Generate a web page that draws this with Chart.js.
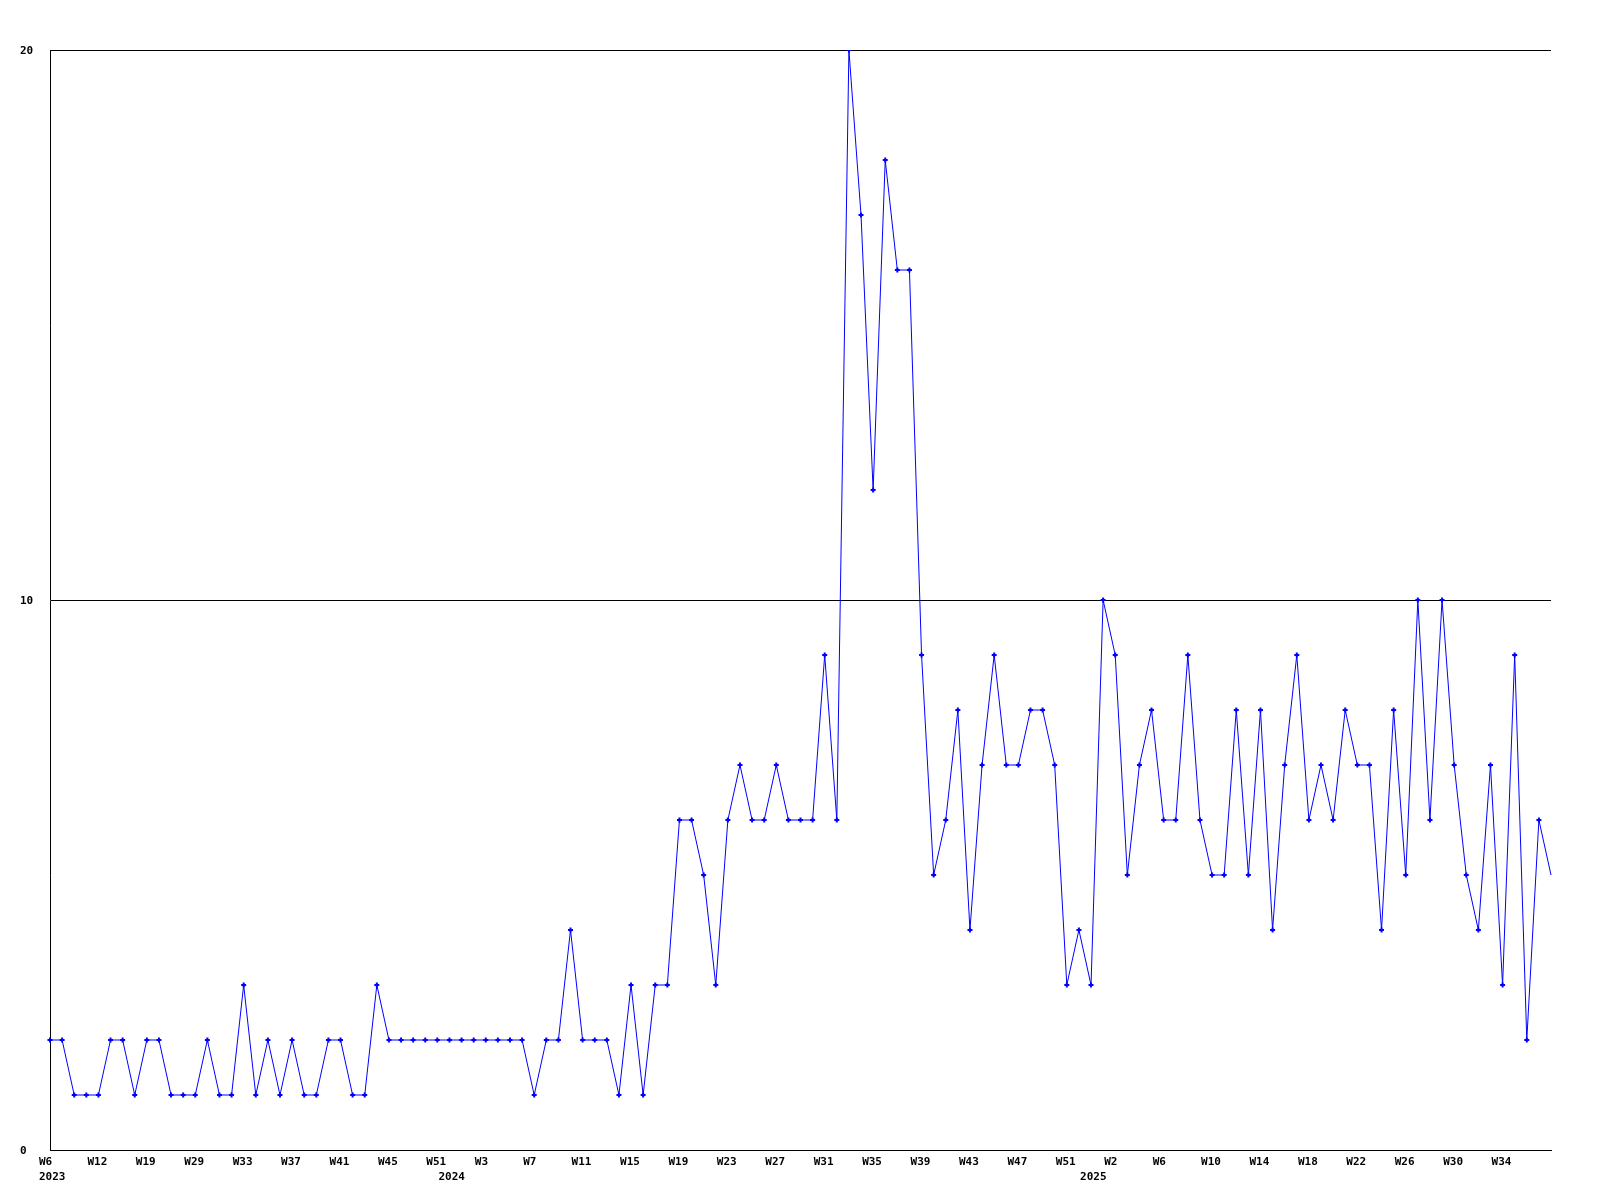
<!DOCTYPE html>
<html>
<head>
<meta charset="utf-8">
<script src="https://cdn.jsdelivr.net/npm/chart.js@4.4.1/dist/chart.umd.min.js"></script>
<style>
  html, body { margin: 0; padding: 0; background: #ffffff; }
  #wrap { width: 1600px; height: 1200px; position: relative; }
</style>
</head>
<body>
<div id="wrap"><canvas id="c" width="1600" height="1200"></canvas></div>
<script>
const weeks = [
  'W6','W7','W8','W10','W12','W14','W16','W17','W19','W22','W24','W27','W29','W30','W31','W32',
  'W33','W34','W35','W36','W37','W38','W39','W40','W41','W42','W43','W44','W45','W47','W49','W50',
  'W51','W52',
  'W1','W2','W3','W4','W5','W6','W7','W8','W9','W10','W11','W12','W13','W14','W15','W16','W17','W18',
  'W19','W20','W21','W22','W23','W24','W25','W26','W27','W28','W29','W30','W31','W32','W33','W34',
  'W35','W36','W37','W38','W39','W40','W41','W42','W43','W44','W45','W46','W47','W48','W49','W50',
  'W51','W52','W53',
  'W1','W2','W3','W4','W5','W6','W7','W8','W9','W10','W11','W12','W13','W14','W15','W16','W17','W18',
  'W19','W20','W21','W22','W23','W24','W25','W26','W27','W28','W29','W30','W31','W32','W33','W34',
  'W35','W36','W37','W38'
];
const yearTicks = { 0: '2023', 33: '2024', 86: '2025' };
const values = [
  2,2,1,1,1,2,2,1,2,2,1,1,1,2,1,1,3,1,2,1,2,1,1,2,2,1,1,3,
  2,2,2,2,2,2,2,2,2,2,2,2,
  1,2,2,4,2,2,2,1,3,1,3,3,
  6,6,5,3,6,7,6,6,7,6,6,6,
  9,6,20,17,12,18,16,16,9,5,6,8,
  4,7,9,7,7,8,8,7,3,4,3,10,
  9,5,7,8,6,6,9,6,5,5,8,5,
  8,4,7,9,6,7,6,8,7,7,4,8,
  5,10,6,10,7,5,4,7,3,9,2,6,5
];
const yTicks = [0, 10, 20];

const font = { family: "'DejaVu Sans Mono', monospace", size: 11, weight: 'bold', lineHeight: 15/11 };

new Chart(document.getElementById('c'), {
  type: 'line',
  data: {
    labels: weeks,
    datasets: [{
      data: values,
      borderColor: '#0000ff',
      backgroundColor: '#0000ff',
      borderWidth: 1,
      tension: 0,
      fill: false,
      pointStyle: 'cross',
      pointRadius: (ctx) => ctx.dataIndex === values.length - 1 ? 0 : 2.5,
      pointBorderWidth: 2,
      pointBorderColor: '#0000ff',
      pointHoverRadius: 0
    }]
  },
  options: {
    responsive: false,
    animation: false,
    devicePixelRatio: 1,
    layout: { padding: { left: 20, right: 49, top: 50, bottom: 0 } },
    plugins: { legend: { display: false }, tooltip: { enabled: false } },
    scales: {
      x: {
        type: 'category',
        offset: false,
        grid: { display: false, drawTicks: false },
        border: { display: true, color: '#000000', width: 1 },
        ticks: {
          autoSkip: false,
          maxRotation: 0,
          minRotation: 0,
          align: 'start',
          labelOffset: -11,
          padding: 5,
          color: '#000000',
          font: font,
          callback: function(value, index) {
            const wk = (index % 4 === 0 && index < values.length - 1) ? weeks[index] : '';
            const yr = yearTicks[index];
            if (yr) return [wk, yr];
            return wk;
          }
        },
        afterFit: (scale) => { scale.height = 50; }
      },
      y: {
        min: 0,
        max: 20,
        afterBuildTicks: (scale) => { scale.ticks = yTicks.map(v => ({ value: v })); },
        grid: { display: true, color: '#000000', lineWidth: 1, drawTicks: false },
        border: { display: true, color: '#000000', width: 1 },
        ticks: {
          crossAlign: 'far',
          padding: 0,
          labelOffset: 1,
          color: '#000000',
          font: font,
          callback: (v) => String(v)
        },
        afterFit: (scale) => { scale.width = 30; }
      }
    }
  },
  plugins: [{
    id: 'bg',
    beforeDraw: (chart) => {
      const c = chart.ctx;
      c.save();
      c.fillStyle = '#ffffff';
      c.fillRect(0, 0, chart.width, chart.height);
      c.restore();
    }
  }]
});
</script>
</body>
</html>
